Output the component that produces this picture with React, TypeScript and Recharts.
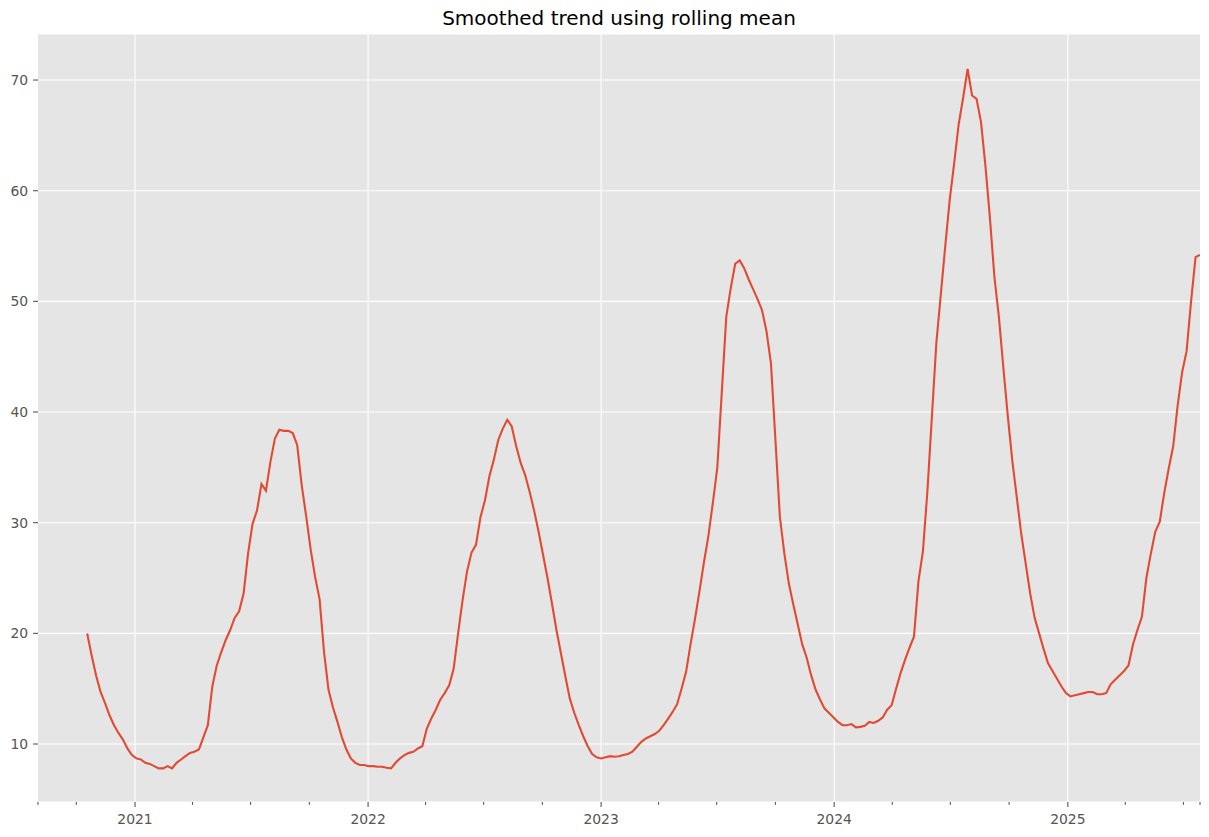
import { LineChart, Line, XAxis, YAxis, CartesianGrid } from 'recharts';

// weekly rolling mean, first valid week is 2020-10-18 (earlier weeks are NaN from the window)
const START_DATE = '2020-10-18';
const RANGE_START = '2020-08-02';
const RANGE_END = '2025-07-27';

const rollingMean = [
   20.0, 18.0, 16.2, 14.7, 13.7, 12.6, 11.7, 11.0, 10.4, 9.6,
   9.0, 8.7, 8.6, 8.3, 8.2, 8.0, 7.8, 7.8, 8.0, 7.8,
   8.3, 8.6, 8.9, 9.2, 9.3, 9.5, 10.6, 11.7, 15.2, 17.1,
   18.3, 19.4, 20.3, 21.4, 22.0, 23.6, 27.2, 29.9, 31.1, 33.5,
   32.9, 35.5, 37.6, 38.4, 38.3, 38.3, 38.1, 37.0, 33.4, 30.6,
   27.6, 25.1, 23.1, 18.3, 14.9, 13.3, 12.0, 10.6, 9.5, 8.7,
   8.3, 8.1, 8.1, 8.0, 8.0, 7.95, 7.95, 7.85, 7.8, 8.3,
   8.7, 9.0, 9.2, 9.3, 9.6, 9.8, 11.4, 12.3, 13.1, 14.0,
   14.6, 15.3, 16.8, 20.0, 23.0, 25.6, 27.3, 28.0, 30.5, 32.0,
   34.2, 35.7, 37.5, 38.5, 39.3, 38.7, 36.9, 35.4, 34.3, 32.8,
   31.1, 29.2, 27.1, 25.0, 22.7, 20.3, 18.2, 16.1, 14.1, 12.8,
   11.7, 10.7, 9.8, 9.1, 8.8, 8.7, 8.8, 8.9, 8.85, 8.9,
   9.0, 9.1, 9.3, 9.75, 10.2, 10.5, 10.7, 10.9, 11.2, 11.7,
   12.3, 12.9, 13.6, 15.0, 16.5, 19.0, 21.3, 23.8, 26.4, 28.8,
   31.8, 35.0, 41.8, 48.6, 51.2, 53.4, 53.7, 53.0, 52.0, 51.1,
   50.2, 49.2, 47.3, 44.4, 37.5, 30.5, 27.2, 24.5, 22.6, 20.8,
   19.0, 17.8, 16.2, 14.9, 14.0, 13.2, 12.8, 12.4, 12.0, 11.7,
   11.7, 11.8, 11.5, 11.55, 11.65, 12.0, 11.9, 12.1, 12.4, 13.1,
   13.5, 15.0, 16.4, 17.6, 18.7, 19.7, 24.7, 27.4, 32.8, 39.5,
   46.2, 50.6, 55.0, 59.2, 62.5, 66.0, 68.4, 71.0, 68.6, 68.3,
   66.2, 62.2, 57.5, 52.2, 48.6, 44.0, 39.6, 35.6, 32.3, 29.0,
   26.3, 23.6, 21.4, 20.0, 18.6, 17.3, 16.6, 15.9, 15.2, 14.6,
   14.3, 14.4, 14.5, 14.6, 14.7, 14.7, 14.5, 14.5, 14.6, 15.4,
   15.8, 16.2, 16.6, 17.1, 19.0, 20.3, 21.5, 25.0, 27.2, 29.2,
   30.1, 32.7, 34.9, 36.9, 40.6, 43.6, 45.5, 50.0, 54.0, 54.2,
];

const yearTickLabels = ['2021', '2022', '2023', '2024', '2025'];
const quarterTickDates = [
   '2020-10-01',
   '2021-04-01', '2021-07-01', '2021-10-01',
   '2022-04-01', '2022-07-01', '2022-10-01',
   '2023-04-01', '2023-07-01', '2023-10-01',
   '2024-04-01', '2024-07-01', '2024-10-01',
   '2025-04-01', '2025-07-01',
];
const yTicks = [10, 20, 30, 40, 50, 60, 70];

const WEEK_MS = 7 * 24 * 3600 * 1000;
const toMs = (iso: string) => Date.parse(iso + 'T00:00:00Z');

const startMs = toMs(START_DATE);
const chartData = rollingMean.map((v, i) => ({ t: startMs + i * WEEK_MS, v }));

const yearTicks = yearTickLabels.map((y) => toMs(y + '-01-01'));
const minorTicks = [RANGE_START, ...quarterTickDates, RANGE_END].map(toMs);
const allXTicks = [...minorTicks, ...yearTicks].sort((a, b) => a - b);

const TICK_COLOR = '#555555';
const FONT = '"DejaVu Sans", sans-serif';

const XTick = (props: any) => {
   const { x, y, payload } = props;
   const isMajor = yearTicks.includes(payload.value);
   const len = isMajor ? 4.9 : 2.8;
   return (
      <g>
         <line x1={x} x2={x} y1={y} y2={y + len} stroke={TICK_COLOR} strokeWidth={1.1} />
         {isMajor && (
            <text x={x} y={y + 22} textAnchor="middle" fill={TICK_COLOR} fontSize={13.9} fontFamily={FONT}>
               {new Date(payload.value).getUTCFullYear()}
            </text>
         )}
      </g>
   );
};

const YTick = (props: any) => {
   const { x, y, payload } = props;
   return (
      <g>
         <line x1={x - 4.9} x2={x} y1={y} y2={y} stroke={TICK_COLOR} strokeWidth={1.1} />
         <text x={x - 9.8} y={y + 5} textAnchor="end" fill={TICK_COLOR} fontSize={13.9} fontFamily={FONT}>
            {payload.value}
         </text>
      </g>
   );
};

export default function App() {
   return (
      <div
         style={{
            position: 'absolute',
            left: 0,
            top: 0,
            width: 1209,
            height: 837,
            background: '#ffffff',
            fontFamily: FONT,
         }}
      >
         <div
            style={{
               position: 'absolute',
               top: 8,
               left: 38,
               width: 1162,
               textAlign: 'center',
               fontSize: 20,
               lineHeight: '20px',
               color: '#000000',
            }}
         >
            Smoothed trend using rolling mean
         </div>
         <LineChart
            width={1209}
            height={837}
            data={chartData}
            margin={{ top: 34, right: 9, bottom: 0, left: 0 }}
         >
            <CartesianGrid
               fill="#E5E5E5"
               fillOpacity={1}
               stroke="#ffffff"
               strokeWidth={1.1}
               verticalValues={yearTicks}
            />
            <XAxis
               dataKey="t"
               type="number"
               domain={[toMs(RANGE_START), toMs(RANGE_END)]}
               allowDataOverflow
               ticks={allXTicks}
               interval={0}
               height={35}
               axisLine={false}
               tickLine={false}
               tickSize={0}
               tickMargin={0}
               tick={<XTick />}
            />
            <YAxis
               type="number"
               domain={[4.76, 74.16]}
               allowDataOverflow
               ticks={yTicks}
               interval={0}
               width={38}
               axisLine={false}
               tickLine={false}
               tickSize={0}
               tickMargin={0}
               tick={<YTick />}
            />
            <Line
               type="linear"
               dataKey="v"
               stroke="#E24A33"
               strokeWidth={2.1}
               dot={false}
               isAnimationActive={false}
            />
         </LineChart>
      </div>
   );
}
